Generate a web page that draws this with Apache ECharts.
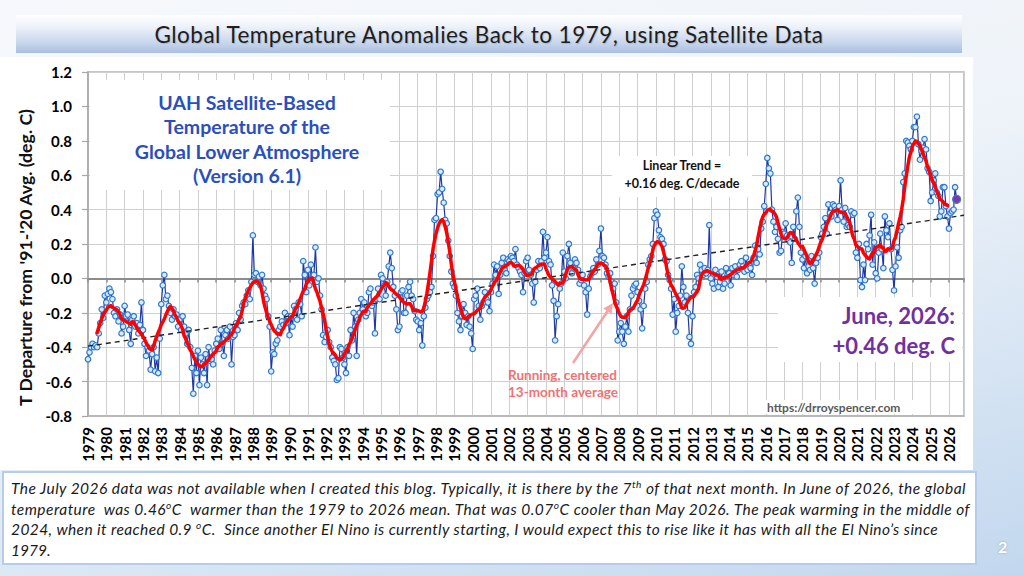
<!DOCTYPE html>
<html>
<head>
<meta charset="utf-8">
<title>Global Temperature Anomalies Back to 1979, using Satellite Data</title>
<script src="https://cdn.jsdelivr.net/npm/echarts@6.0.0/dist/echarts.min.js"></script>
<style>
  html, body { margin: 0; padding: 0; }
  body {
    width: 1024px; height: 576px; overflow: hidden; position: relative;
    background: linear-gradient(165deg, #f6f8fc 0%, #eef3f9 45%, #c2d7ee 100%);
    font-family: Lato, 'Open Sans', sans-serif;
  }
  #titleBar {
    position: absolute; left: 16px; top: 15px; width: 946px; height: 38px;
    background: linear-gradient(to bottom, #ffffff 0%, #eef2f9 30%, #c6d5ec 75%, #a9bee2 100%);
    text-align: center; line-height: 40px; font-size: 22.5px; color: #1e1e1e;
    text-shadow: 1px 1px 1px rgba(0, 0, 0, 0.15);
    white-space: nowrap;
  }
  #chart {
    position: absolute; left: 0; top: 57px; width: 973px; height: 413px; background: #fff;
  }
  #note {
    position: absolute; left: 2px; top: 471px; width: 975px; height: 94px;
    box-sizing: border-box; background: #fff; border: 2px solid #b5cdea;
    padding: 5px 0 0 7px; font-style: italic; font-size: 15.5px; line-height: 20.6px;
    color: #1a1a1a; white-space: nowrap;
  }
  #note span { display: inline-block; }
  #note sup { font-size: 0.65em; line-height: 0; vertical-align: 0.55em; }
  #pageNo {
    position: absolute; left: 998px; top: 537px; font-size: 16px; font-weight: bold; color: #fff;
    text-shadow: 0 0 2px rgba(80, 110, 150, 0.5);
  }
</style>
</head>
<body>
<div id="titleBar"><span id="titleText">Global Temperature Anomalies Back to 1979, using Satellite Data</span></div>
<div id="chart"></div>
<div id="note">
  <div><span data-fit="955">The July 2026 data was not available when I created this blog. Typically, it is there by the 7<sup>th</sup> of that next month. In June of 2026, the global</span></div>
  <div><span data-fit="959">temperature&nbsp; was 0.46<sup>o</sup>C&nbsp; warmer than the 1979 to 2026 mean. That was 0.07<sup>o</sup>C cooler than May 2026. The peak warming in the middle of</span></div>
  <div><span data-fit="927">2024, when it reached 0.9 <sup>o</sup>C.&nbsp; Since another El Nino is currently starting, I would expect this to rise like it has with all the El Nino’s since</span></div>
  <div><span>1979.</span></div>
</div>
<div id="pageNo">2</div>

<script>
// UAH lower troposphere anomalies, deg. C from the '91-'20 mean, monthly from Jan 1979
const startYear = 1979;
const monthlyAnomaly = [
  -0.47, -0.43, -0.40, -0.38, -0.40, -0.39, -0.40, -0.32, -0.26, -0.18, -0.23, -0.10, // 1979
  -0.14, -0.09, -0.06, -0.08, -0.12, -0.20, -0.22, -0.18, -0.25, -0.21, -0.32, -0.28, // 1980
  -0.16, -0.22, -0.21, -0.30, -0.38, -0.24, -0.22, -0.28, -0.26, -0.32, -0.27, -0.14, // 1981
  -0.30, -0.38, -0.45, -0.40, -0.42, -0.53, -0.44, -0.40, -0.54, -0.46, -0.55, -0.35, // 1982
  -0.15, -0.04, 0.02, -0.12, -0.10, -0.16, -0.20, -0.24, -0.18, -0.22, -0.21, -0.28, // 1983
  -0.24, -0.30, -0.22, -0.28, -0.32, -0.38, -0.30, -0.40, -0.52, -0.67, -0.45, -0.55, // 1984
  -0.42, -0.62, -0.46, -0.50, -0.55, -0.44, -0.62, -0.40, -0.48, -0.47, -0.50, -0.42, // 1985
  -0.38, -0.35, -0.41, -0.30, -0.38, -0.45, -0.33, -0.30, -0.35, -0.28, -0.50, -0.34, // 1986
  -0.33, -0.26, -0.30, -0.20, -0.24, -0.16, -0.14, -0.15, -0.10, -0.07, -0.12, -0.02, // 1987
  0.25, 0.02, 0.03, -0.02, 0.01, -0.04, 0.02, -0.06, -0.10, -0.12, -0.22, -0.28, // 1988
  -0.54, -0.43, -0.44, -0.38, -0.36, -0.30, -0.28, -0.25, -0.27, -0.20, -0.26, -0.22, // 1989
  -0.33, -0.22, -0.28, -0.16, -0.18, -0.24, -0.14, -0.15, -0.22, 0.10, 0.02, -0.08, // 1990
  0.05, -0.04, 0.08, 0.00, 0.02, 0.18, -0.02, 0.00, -0.10, -0.18, -0.33, -0.37, // 1991
  -0.34, -0.30, -0.37, -0.40, -0.46, -0.48, -0.50, -0.59, -0.58, -0.40, -0.41, -0.46, // 1992
  -0.50, -0.55, -0.40, -0.45, -0.30, -0.36, -0.20, -0.28, -0.45, -0.24, -0.20, -0.12, // 1993
  -0.18, -0.14, -0.22, -0.20, -0.08, -0.06, -0.16, -0.14, -0.32, -0.12, -0.06, -0.12, // 1994
  0.02, 0.00, -0.04, -0.10, -0.02, 0.07, 0.15, 0.06, -0.05, -0.10, -0.18, -0.30, // 1995
  -0.28, -0.08, -0.07, -0.20, -0.20, -0.10, -0.05, -0.02, -0.10, -0.12, -0.19, -0.24, // 1996
  -0.25, -0.30, -0.26, -0.39, -0.22, -0.17, -0.12, -0.10, -0.08, -0.05, 0.13, 0.34, // 1997
  0.35, 0.49, 0.50, 0.62, 0.52, 0.44, 0.34, 0.32, 0.22, 0.13, 0.04, -0.03, // 1998
  -0.05, -0.10, -0.20, -0.25, -0.30, -0.22, -0.15, -0.20, -0.27, -0.22, -0.28, -0.32, // 1999
  -0.41, -0.12, -0.10, -0.06, -0.16, -0.24, -0.16, -0.14, -0.08, -0.12, -0.14, -0.19, // 2000
  -0.08, -0.03, 0.08, 0.02, 0.07, -0.09, 0.02, 0.09, 0.12, 0.05, 0.03, 0.11, // 2001
  0.10, 0.13, 0.12, 0.10, 0.17, 0.08, 0.06, 0.04, 0.02, -0.08, 0.03, 0.10, // 2002
  0.12, 0.05, 0.02, -0.03, -0.14, -0.02, 0.05, 0.10, 0.06, 0.10, 0.27, 0.12, // 2003
  0.15, 0.24, 0.10, 0.08, -0.04, -0.13, -0.36, -0.22, -0.15, -0.06, -0.03, 0.15, // 2004
  0.04, 0.00, 0.13, 0.20, 0.09, 0.03, 0.06, 0.11, 0.09, 0.05, -0.03, -0.01, // 2005
  0.02, -0.04, -0.08, -0.21, -0.06, 0.01, 0.03, 0.06, 0.04, 0.11, 0.08, 0.16, // 2006
  0.29, 0.13, 0.12, 0.08, 0.03, 0.01, 0.03, -0.02, -0.06, -0.03, -0.14, -0.36, // 2007
  -0.31, -0.26, -0.31, -0.38, -0.28, -0.22, -0.31, -0.18, -0.10, -0.06, -0.04, -0.03, // 2008
  -0.08, -0.13, -0.18, -0.29, -0.16, -0.06, -0.02, 0.08, 0.11, 0.13, 0.20, 0.35, // 2009
  0.39, 0.37, 0.28, 0.24, 0.23, 0.20, 0.11, 0.10, 0.02, -0.01, -0.06, -0.21, // 2010
  -0.12, -0.31, -0.20, -0.16, -0.10, 0.07, -0.05, -0.14, -0.10, -0.20, -0.34, -0.38, // 2011
  -0.22, -0.08, -0.05, 0.02, 0.00, 0.08, 0.05, 0.02, 0.06, 0.03, 0.05, 0.31, // 2012
  0.00, -0.03, -0.06, 0.05, 0.01, -0.05, -0.02, 0.04, -0.06, -0.03, 0.06, 0.02, // 2013
  0.03, -0.04, 0.06, 0.02, 0.07, 0.01, 0.05, 0.08, 0.10, 0.07, 0.04, 0.12, // 2014
  0.05, 0.08, 0.06, 0.02, 0.12, 0.19, 0.09, 0.17, 0.14, 0.29, 0.33, 0.42, // 2015
  0.55, 0.70, 0.64, 0.61, 0.40, 0.33, 0.27, 0.30, 0.23, 0.15, 0.16, 0.27, // 2016
  0.26, 0.32, 0.25, 0.22, 0.21, 0.09, 0.30, 0.23, 0.39, 0.47, 0.30, 0.15, // 2017
  0.11, 0.06, 0.13, 0.03, 0.07, 0.05, 0.13, 0.06, -0.03, 0.09, 0.12, 0.15, // 2018
  0.24, 0.26, 0.30, 0.35, 0.26, 0.43, 0.38, 0.36, 0.43, 0.42, 0.40, 0.34, // 2019
  0.42, 0.57, 0.40, 0.33, 0.41, 0.30, 0.31, 0.30, 0.39, 0.37, 0.38, 0.15, // 2020
  0.12, 0.20, -0.01, -0.05, 0.08, -0.01, 0.20, 0.17, 0.25, 0.37, 0.08, 0.21, // 2021
  0.03, 0.00, 0.15, 0.26, 0.17, 0.06, 0.36, 0.28, 0.24, 0.32, 0.17, 0.05, // 2022
  -0.07, 0.07, 0.18, 0.12, 0.28, 0.30, 0.56, 0.61, 0.80, 0.79, 0.77, 0.75, // 2023
  0.80, 0.88, 0.88, 0.94, 0.78, 0.69, 0.74, 0.76, 0.81, 0.75, 0.64, 0.62, // 2024
  0.45, 0.50, 0.57, 0.61, 0.50, 0.48, 0.36, 0.39, 0.53, 0.53, 0.42, 0.36, // 2025
  0.29, 0.38, 0.39, 0.40, 0.53, 0.46 // 2026
];

const axisYears = [1979, 2026.82]; // x extent of the plot, in years
const tempRange = [-0.8, 1.2];
const tempStep = 0.2;

const uahLabel = 'UAH Satellite-Based\nTemperature of the\nGlobal Lower Atmosphere\n(Version 6.1)';
const trendLabel = 'Linear Trend =\n+0.16 deg. C/decade';
const latestLabel = 'June, 2026:\n+0.46 deg. C';
const runningLabel = 'Running, centered\n13-month average';
const siteLabel = 'https://drroyspencer.com';
const yTitle = "T Departure from '91-'20 Avg. (deg. C)";

// stretch the slide texts to the widths they have on the slide
function fitWidth(el, target) {
  const w = el.getBoundingClientRect().width;
  const chars = el.textContent.length;
  el.style.letterSpacing = ((target - w) / chars).toFixed(3) + 'px';
}
fitWidth(document.getElementById('titleText'), 669);
document.querySelectorAll('#note span[data-fit]').forEach((el) => fitWidth(el, +el.dataset.fit));

const monthX = (i) => startYear + i / 12;

const uahPoints = monthlyAnomaly.map((v, i) => [monthX(i), v]);
// highlight the latest month
const last = uahPoints.length - 1;
const uahData = uahPoints.map((p, i) => (i === last
  ? { value: p, symbolSize: 8, itemStyle: { color: '#7a3aa8', borderColor: '#4b6fc9', borderWidth: 1.2 } }
  : p));

// running, centered 13-month average
const runningMean = [];
for (let i = 6; i < monthlyAnomaly.length - 6; i++) {
  let s = 0;
  for (let k = i - 6; k <= i + 6; k++) s += monthlyAnomaly[k];
  runningMean.push([monthX(i), s / 13]);
}

// least squares trend
let sx = 0, sy = 0, sxx = 0, sxy = 0;
uahPoints.forEach(([x, y]) => { sx += x; sy += y; sxx += x * x; sxy += x * y; });
const n = uahPoints.length;
const slope = (n * sxy - sx * sy) / (n * sxx - sx * sx);
const icpt = (sy - slope * sx) / n;
const trendLine = axisYears.map((x) => [x, icpt + slope * x]);

const boldFont = 'Lato, "Open Sans", sans-serif';

const chart = echarts.init(document.getElementById('chart'), null, { renderer: 'svg' });
chart.setOption({
  animation: false,
  backgroundColor: '#ffffff',
  grid: {
    left: 88, top: 15, right: 9, bottom: 54,
    show: true, borderColor: '#b4b4b4', borderWidth: 1.5, backgroundColor: 'transparent',
    outerBoundsMode: 'none',
  },
  xAxis: [{
    type: 'value',
    min: axisYears[0],
    max: axisYears[1],
    interval: 1,
    position: 'bottom',
    axisLine: { onZero: false, lineStyle: { color: '#b4b4b4', width: 1.5 } },
    axisTick: { show: false },
    splitLine: { show: true, lineStyle: { color: '#cfcfcf', width: 1 } },
    axisLabel: {
      rotate: 90,
      margin: 11,
      color: '#000',
      fontFamily: boldFont,
      fontWeight: 'bold',
      fontSize: 15,
      formatter: (v) => (Math.abs(v - Math.round(v)) < 1e-6 ? String(Math.round(v)) : ''),
    },
  }, {
    // the zero line with its yearly ticks
    type: 'value',
    min: axisYears[0],
    max: axisYears[1],
    interval: 1,
    position: 'bottom',
    axisLine: { onZero: true, lineStyle: { color: '#8c8c8c', width: 2 } },
    axisTick: { show: true, length: 4, lineStyle: { color: '#8c8c8c', width: 1.5 } },
    axisLabel: { show: false },
    splitLine: { show: false },
  }],
  yAxis: {
    type: 'value',
    min: tempRange[0],
    max: tempRange[1],
    interval: tempStep,
    axisLine: { show: true, lineStyle: { color: '#a6a6a6', width: 1.5 } },
    axisTick: { show: true, length: 6, lineStyle: { color: '#a6a6a6', width: 1.2 } },
    splitLine: { show: true, lineStyle: { color: '#cfcfcf', width: 1 } },
    axisLabel: {
      margin: 16,
      color: '#000',
      fontFamily: boldFont,
      fontWeight: 'bold',
      fontSize: 15,
      formatter: (v) => v.toFixed(1),
    },
  },
  graphic: [
    // white backing boxes for the labels
    { type: 'rect', z: 1, shape: { x: 90, y: 23, width: 300, height: 110 }, style: { fill: '#fff' }, silent: true },
    { type: 'rect', z: 1, shape: { x: 612, y: 99, width: 140, height: 41 }, style: { fill: '#fff' }, silent: true },
    { type: 'rect', z: 1, shape: { x: 778, y: 240, width: 184, height: 65 }, style: { fill: '#fff' }, silent: true },
    { type: 'rect', z: 1, shape: { x: 764, y: 343, width: 152, height: 14 }, style: { fill: '#fff' }, silent: true },
    {
      type: 'text', z: 10, x: 247, y: 33,
      style: {
        text: uahLabel, fill: '#2a4fbd', font: 'bold 19.5px ' + boldFont,
        align: 'center', textAlign: 'center', verticalAlign: 'top', textVerticalAlign: 'top', lineHeight: 24.5,
      },
    },
    {
      type: 'text', z: 10, x: 682, y: 99,
      style: {
        text: trendLabel, fill: '#111', font: 'bold 12.5px ' + boldFont,
        align: 'center', textAlign: 'center', verticalAlign: 'top', textVerticalAlign: 'top', lineHeight: 18,
      },
    },
    {
      type: 'text', z: 10, x: 955, y: 243,
      style: {
        text: latestLabel, fill: '#7030a0', font: 'bold 22px ' + boldFont,
        align: 'right', textAlign: 'right', verticalAlign: 'top', textVerticalAlign: 'top', lineHeight: 30,
      },
    },
    {
      type: 'text', z: 10, x: 508, y: 309,
      style: {
        text: runningLabel, fill: '#f07272', font: 'bold 13.5px ' + boldFont,
        align: 'left', textAlign: 'left', verticalAlign: 'top', textVerticalAlign: 'top', lineHeight: 17,
      },
    },
    {
      type: 'text', z: 10, x: 767, y: 350,
      style: {
        text: siteLabel, fill: '#595959', font: 'bold 12px ' + boldFont,
        align: 'left', textAlign: 'left', verticalAlign: 'middle', textVerticalAlign: 'middle',
      },
    },
    {
      type: 'text', z: 10, x: 25, y: 200.5, rotation: Math.PI / 2,
      style: {
        text: yTitle, fill: '#111', font: 'bold 17.7px ' + boldFont,
        align: 'center', textAlign: 'center', verticalAlign: 'middle', textVerticalAlign: 'middle',
      },
    },
    // arrow pointing at the running average
    {
      type: 'line', z: 10, silent: true,
      shape: { x1: 573, y1: 306, x2: 609, y2: 252 },
      style: { stroke: '#f5a3a3', lineWidth: 2.5 },
    },
    {
      type: 'polygon', z: 10, silent: true,
      shape: { points: [[613, 246], [611.6, 257.1], [603.3, 251.5]] },
      style: { fill: '#f5a3a3' },
    },
  ],
  series: [{
    name: 'UAH LT',
    type: 'line',
    xAxisIndex: 0,
    data: uahData,
    symbol: 'circle',
    symbolSize: 5.5,
    showSymbol: true,
    showAllSymbol: true,
    lineStyle: { color: '#1d38a6', width: 1.2 },
    itemStyle: { color: '#dce9f8', borderColor: '#2c7ad0', borderWidth: 1.2 },
    emphasis: { disabled: true },
    z: 2,
  }, {
    name: 'Linear trend',
    type: 'line',
    xAxisIndex: 0,
    data: trendLine,
    symbol: 'none',
    lineStyle: { color: '#222', width: 1.4, type: [5, 4] },
    emphasis: { disabled: true },
    z: 3,
  }, {
    name: 'Running 13-month average',
    type: 'line',
    xAxisIndex: 0,
    data: runningMean,
    symbol: 'none',
    lineStyle: { color: '#ff0000', width: 3.5, cap: 'round', join: 'round' },
    emphasis: { disabled: true },
    z: 4,
  }],
});
</script>
</body>
</html>
